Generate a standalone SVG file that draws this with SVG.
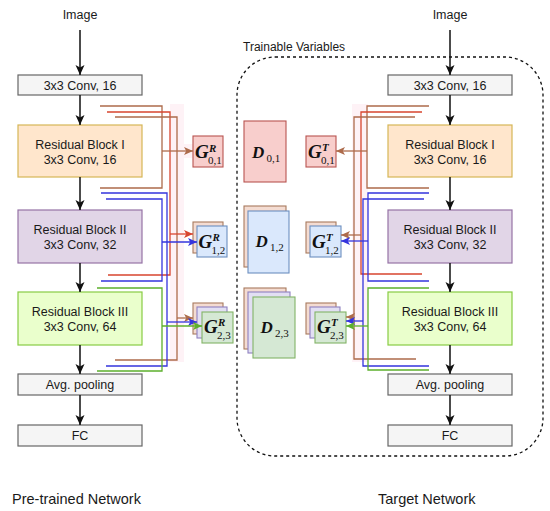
<svg xmlns="http://www.w3.org/2000/svg" width="550" height="511" viewBox="0 0 550 511">
<defs>
<style>
text{font-family:"Liberation Sans",Arial,Helvetica,sans-serif;fill:#1a1a1a}
.t{font-size:12.5px;text-anchor:middle}
.lbl{font-size:14.5px}
.cap{font-size:12px}
.gray{fill:#f5f5f5;stroke:#666666;stroke-width:1.2}
.rb1{fill:#ffe6cc;stroke:#d6b656;stroke-width:1.2}
.rb2{fill:#e1d5e7;stroke:#9673a6;stroke-width:1.2}
.rb3{fill:#eaffcc;stroke:#88cc44;stroke-width:1.2}
.pk{fill:#f8cecc;stroke:#b85450;stroke-width:1.1}
.bl{fill:#dae8fc;stroke:#6c8ebf;stroke-width:1.1}
.bk{fill:#f4dcd2;stroke:#a87a5e;stroke-width:1.1}
.md{fill:#e2dff3;stroke:#8f80c0;stroke-width:1.1}
.gr{fill:#d5e8d4;stroke:#82b366;stroke-width:1.1}
.mv{font-family:"Liberation Serif","Times New Roman",serif;font-style:italic;font-weight:bold;font-size:19px;fill:#111}
.dv{font-family:"Liberation Serif","Times New Roman",serif;font-style:italic;font-weight:bold;font-size:17px;fill:#111}
.sup{font-family:"Liberation Serif","Times New Roman",serif;font-style:italic;font-weight:bold;font-size:11px;fill:#111}
.sub{font-family:"Liberation Serif","Times New Roman",serif;font-size:11px;fill:#111}
.arr{stroke:#111;stroke-width:1.5;fill:none;marker-end:url(#ahk)}
.c{fill:none;stroke-width:1.3}
.br{stroke:#ad6b4b}
.rd{stroke:#d8452f}
.bu{stroke:#3535dd}
.gn{stroke:#5cb02c}
</style>
<marker id="ahk" markerUnits="userSpaceOnUse" markerWidth="10" markerHeight="10" refX="10" refY="5" orient="auto"><path d="M0,0.5 L10,5 L0,9.5 L2.5,5 z" fill="#111"/></marker>
<marker id="ahbr" markerUnits="userSpaceOnUse" markerWidth="9" markerHeight="9" refX="9" refY="4.5" orient="auto"><path d="M0,0.5 L9,4.5 L0,8.5 L2.2,4.5 z" fill="#ad6b4b"/></marker>
<marker id="ahrd" markerUnits="userSpaceOnUse" markerWidth="9" markerHeight="9" refX="9" refY="4.5" orient="auto"><path d="M0,0.5 L9,4.5 L0,8.5 L2.2,4.5 z" fill="#d8452f"/></marker>
<marker id="ahbu" markerUnits="userSpaceOnUse" markerWidth="9" markerHeight="9" refX="9" refY="4.5" orient="auto"><path d="M0,0.5 L9,4.5 L0,8.5 L2.2,4.5 z" fill="#3535dd"/></marker>
<marker id="ahgn" markerUnits="userSpaceOnUse" markerWidth="9" markerHeight="9" refX="9" refY="4.5" orient="auto"><path d="M0,0.5 L9,4.5 L0,8.5 L2.2,4.5 z" fill="#5cb02c"/></marker>
</defs>
<rect width="550" height="511" fill="#ffffff"/>

<!-- faint highlight bands -->
<g id="bands" fill="#fef2f6">
<rect x="170" y="104" width="14" height="258"/>
<rect x="175" y="144" width="18" height="14"/>
<rect x="352" y="104" width="16" height="258"/>
</g>

<!-- trainable variables region -->
<g id="trainable">
<rect x="237" y="57" width="306" height="399" rx="38" ry="38" fill="none" stroke="#111" stroke-width="1.3" stroke-dasharray="3,3"/>
<text class="cap" x="243" y="51">Trainable Variables</text>
</g>

<!-- left network -->
<g id="left-image"><text class="t" x="80" y="19">Image</text></g>
<g id="left-conv"><rect class="gray" x="18" y="75" width="124" height="20"/><text class="t" x="80" y="89.5">3x3 Conv, 16</text></g>
<g id="left-rb1"><rect class="rb1" x="18" y="125" width="124" height="52"/><text class="t" x="80" y="149">Residual Block I</text><text class="t" x="80" y="164">3x3 Conv, 16</text></g>
<g id="left-rb2"><rect class="rb2" x="18" y="210" width="124" height="53"/><text class="t" x="80" y="234">Residual Block II</text><text class="t" x="80" y="249">3x3 Conv, 32</text></g>
<g id="left-rb3"><rect class="rb3" x="18" y="292" width="124" height="53"/><text class="t" x="80" y="316">Residual Block III</text><text class="t" x="80" y="331">3x3 Conv, 64</text></g>
<g id="left-pool"><rect class="gray" x="18" y="374" width="124" height="21"/><text class="t" x="80" y="389">Avg. pooling</text></g>
<g id="left-fc"><rect class="gray" x="18" y="425" width="124" height="21"/><text class="t" x="80" y="440">FC</text></g>
<g id="left-title"><text class="lbl" x="12" y="504">Pre-trained Network</text></g>

<!-- right network -->
<g id="right-image"><text class="t" x="450" y="19">Image</text></g>
<g id="right-conv"><rect class="gray" x="388" y="75" width="124" height="20"/><text class="t" x="450" y="89.5">3x3 Conv, 16</text></g>
<g id="right-rb1"><rect class="rb1" x="388" y="125" width="124" height="52"/><text class="t" x="450" y="149">Residual Block I</text><text class="t" x="450" y="164">3x3 Conv, 16</text></g>
<g id="right-rb2"><rect class="rb2" x="388" y="210" width="124" height="53"/><text class="t" x="450" y="234">Residual Block II</text><text class="t" x="450" y="249">3x3 Conv, 32</text></g>
<g id="right-rb3"><rect class="rb3" x="388" y="292" width="124" height="53"/><text class="t" x="450" y="316">Residual Block III</text><text class="t" x="450" y="331">3x3 Conv, 64</text></g>
<g id="right-pool"><rect class="gray" x="388" y="374" width="124" height="21"/><text class="t" x="450" y="389">Avg. pooling</text></g>
<g id="right-fc"><rect class="gray" x="388" y="425" width="124" height="21"/><text class="t" x="450" y="440">FC</text></g>
<g id="right-title"><text class="lbl" x="378" y="504">Target Network</text></g>

<!-- G^R matrices -->
<g id="GR01"><rect class="pk" x="193" y="136" width="30" height="31"/>
<text class="mv" x="195" y="157.5">G</text><text class="sup" x="209" y="152">R</text><text class="sub" x="208" y="163.5">0,1</text></g>
<g id="GR12"><rect class="bk" x="193" y="222" width="30" height="31"/><rect class="bl" x="197" y="226" width="30" height="31"/>
<text class="mv" x="198.5" y="247.5">G</text><text class="sup" x="212.5" y="241">R</text><text class="sub" x="211.5" y="253.5">1,2</text></g>
<g id="GR23"><rect class="bk" x="193" y="303" width="30" height="31"/><rect class="md" x="197" y="307" width="30" height="31"/><rect class="gr" x="202" y="312" width="31" height="31"/>
<text class="mv" x="204" y="332.5">G</text><text class="sup" x="218" y="326">R</text><text class="sub" x="217" y="338.5">2,3</text></g>

<!-- D matrices -->
<g id="D01"><rect class="pk" x="244" y="121" width="42" height="61"/>
<text class="dv" x="252" y="158">D</text><text class="sub" x="266.5" y="161.5">0,1</text></g>
<g id="D12"><rect class="bk" x="244" y="206" width="42" height="61"/><rect class="bl" x="248" y="211" width="41" height="62"/>
<text class="dv" x="255.5" y="247">D</text><text class="sub" x="270" y="250.5">1,2</text></g>
<g id="D23"><rect class="bk" x="244" y="288" width="42" height="61"/><rect class="md" x="248" y="292" width="42" height="61"/><rect class="gr" x="253" y="297" width="42" height="61"/>
<text class="dv" x="260.5" y="333">D</text><text class="sub" x="275" y="336.5">2,3</text></g>

<!-- G^T matrices -->
<g id="GT01"><rect class="pk" x="306" y="136" width="30" height="31"/>
<text class="mv" x="308" y="157.5">G</text><text class="sup" x="322" y="151">T</text><text class="sub" x="321" y="163.5">0,1</text></g>
<g id="GT12"><rect class="bk" x="306" y="222" width="30" height="31"/><rect class="bl" x="310" y="226" width="31" height="31"/>
<text class="mv" x="312" y="247.5">G</text><text class="sup" x="326" y="241">T</text><text class="sub" x="325" y="253.5">1,2</text></g>
<g id="GT23"><rect class="bk" x="306" y="303" width="30" height="31"/><rect class="md" x="310" y="307" width="30" height="31"/><rect class="gr" x="315" y="312" width="31" height="31"/>
<text class="mv" x="317" y="332.5">G</text><text class="sup" x="331" y="326">T</text><text class="sub" x="330" y="338.5">2,3</text></g>

<!-- connectors -->
<g id="connectors">
<path class="arr" d="M80,30 V75"/>
<path class="arr" d="M80,95 V125"/>
<path class="arr" d="M80,177 V210"/>
<path class="arr" d="M80,263 V292"/>
<path class="arr" d="M80,345 V374"/>
<path class="arr" d="M80,395 V425"/>
<path class="arr" d="M450,30 V75"/>
<path class="arr" d="M450,95 V125"/>
<path class="arr" d="M450,177 V210"/>
<path class="arr" d="M450,263 V292"/>
<path class="arr" d="M450,345 V374"/>
<path class="arr" d="M450,395 V425"/>

<!-- left feature taps -->
<path class="c br" d="M100,106 H162 V188 H100"/>
<path class="c rd" d="M107,112 H170 V275 H108"/>
<path class="c br" d="M115,117 H177 V360 H115"/>
<path class="c bu" d="M101,193 H167 V366 H106"/>
<path class="c bu" d="M106,199 H162 V281 H101"/>
<path class="c gn" d="M97,288 H162 V371 H97"/>
<path class="c br" d="M162,151 H193" marker-end="url(#ahbr)"/>
<path class="c rd" d="M170,234 H193" marker-end="url(#ahrd)"/>
<path class="c bu" d="M162,242 H197" marker-end="url(#ahbu)"/>
<path class="c br" d="M177,318 H193" marker-end="url(#ahbr)"/>
<path class="c bu" d="M167,322 H197" marker-end="url(#ahbu)"/>
<path class="c gn" d="M162,326 H202" marker-end="url(#ahgn)"/>

<!-- right feature taps -->
<path class="c br" d="M429,106 H367 V188 H429"/>
<path class="c rd" d="M422,112 H361 V274 H422"/>
<path class="c br" d="M415,117 H354 V359 H416"/>
<path class="c bu" d="M429,193 H368 V281 H429"/>
<path class="c bu" d="M424,199 H363 V366 H429"/>
<path class="c gn" d="M429,288 H368 V370 H429"/>
<path class="c br" d="M367,151 H336" marker-end="url(#ahbr)"/>
<path class="c br" d="M361,235 H341" marker-end="url(#ahbr)"/>
<path class="c bu" d="M368,241 H341" marker-end="url(#ahbu)"/>
<path class="c br" d="M354,317 H346" marker-end="url(#ahbr)"/>
<path class="c bu" d="M363,321 H346" marker-end="url(#ahbu)"/>
<path class="c gn" d="M368,326 H346" marker-end="url(#ahgn)"/>
</g>
</svg>
